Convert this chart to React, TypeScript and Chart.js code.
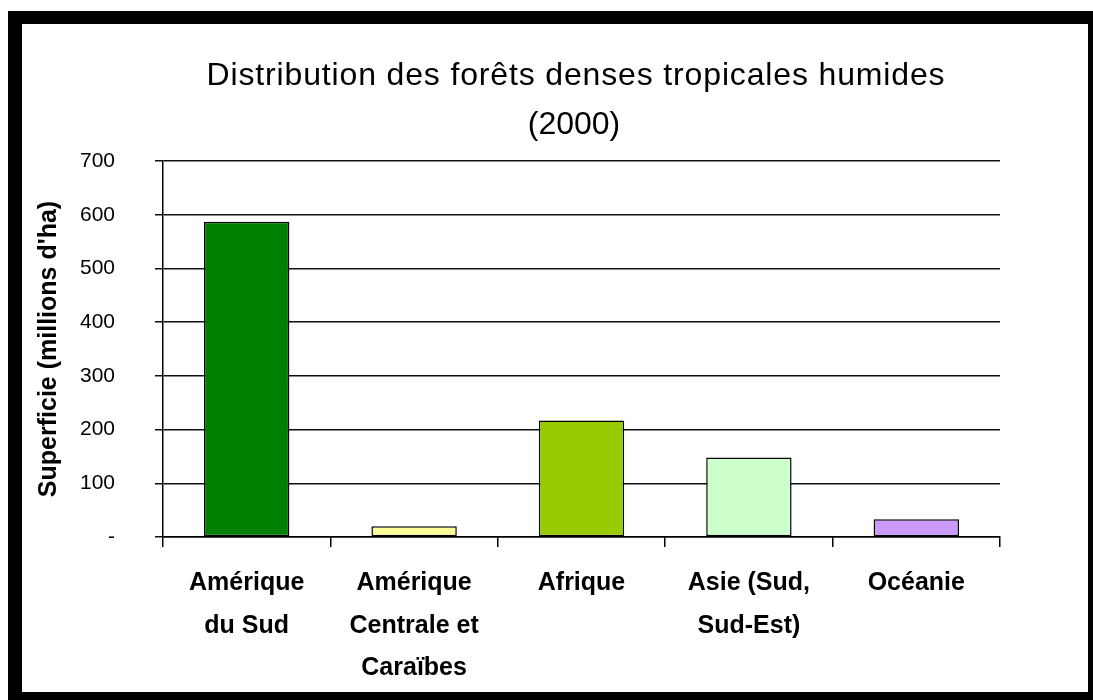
import React, { useEffect, useRef } from "react";
import { Chart, registerables } from "chart.js";

Chart.register(...registerables);

const categories: string[][] = [
  ["Amérique", "du Sud"],
  ["Amérique", "Centrale et", "Caraïbes"],
  ["Afrique"],
  ["Asie (Sud,", "Sud-Est)"],
  ["Océanie"],
];
const surfaceValues: number[] = [587, 20, 217, 148, 33];
const barColors: string[] = ["#008000", "#FFFF99", "#99CC00", "#CCFFCC", "#CC99FF"];
const titleLines: string[] = ["Distribution des forêts denses tropicales humides", "(2000)"];
const yAxisTitle = "Superficie (millions d'ha)";
const yMin = 0;
const yMax = 700;
const yStep = 100;

const FONT = '"Liberation Sans", Arial, sans-serif';

const titlePlugin = {
  id: "twoLineTitle",
  afterDraw(chart: any) {
    const ctx = chart.ctx as CanvasRenderingContext2D;
    ctx.save();
    ctx.fillStyle = "#000";
    ctx.font = `32px ${FONT}`;
    (ctx as any).letterSpacing = "0.85px";
    ctx.textAlign = "center";
    ctx.textBaseline = "alphabetic";
    ctx.fillText(titleLines[0], 554, 61);
    (ctx as any).letterSpacing = "0px";
    ctx.fillText(titleLines[1], 552, 110);
    ctx.restore();
  },
};

export default function App() {
  const ref = useRef<HTMLCanvasElement | null>(null);

  useEffect(() => {
    if (!ref.current) return;
    const chart = new Chart(ref.current, {
      type: "bar",
      data: {
        labels: categories,
        datasets: [
          {
            data: surfaceValues,
            backgroundColor: barColors,
            borderColor: "#000",
            borderWidth: 1.5,
            borderSkipped: false,
            barPercentage: 0.51,
            categoryPercentage: 1,
          },
        ],
      },
      options: {
        responsive: false,
        animation: false,
        devicePixelRatio: 1,
        layout: { padding: { top: 137, right: 88, left: 0, bottom: 0 } },
        plugins: {
          legend: { display: false },
          title: { display: false },
          tooltip: { enabled: false },
        },
        scales: {
          x: {
            offset: true,
            afterFit: (scale: any) => {
              scale.height = 155;
            },
            grid: {
              display: true,
              drawOnChartArea: false,
              drawTicks: true,
              tickLength: 10,
              offset: true,
              color: "#000",
              lineWidth: 1.5,
            },
            border: { display: true, color: "#000", width: 1.5 },
            ticks: {
              color: "#000",
              padding: 15,
              maxRotation: 0,
              autoSkip: false,
              font: { family: FONT, size: 25, weight: "bold", lineHeight: 1.7 },
            },
          },
          y: {
            min: yMin,
            max: yMax,
            afterFit: (scale: any) => {
              scale.width = 141;
            },
            grid: {
              display: true,
              drawTicks: true,
              tickLength: 8,
              color: "#111",
              lineWidth: 1.5,
            },
            border: { display: true, color: "#000", width: 1.5 },
            ticks: {
              stepSize: yStep,
              color: "#000",
              padding: 40,
              font: { family: FONT, size: 21 },
              callback: (v: any) => (Number(v) === 0 ? "-" : String(v)),
            },
            title: {
              display: true,
              text: yAxisTitle,
              color: "#000",
              padding: { top: 12, bottom: 0 },
              font: { family: FONT, size: 25, weight: "bold", lineHeight: 1.2 },
            },
          },
        },
      },
      plugins: [titlePlugin],
    });
    return () => chart.destroy();
  }, []);

  return (
    <div
      style={{
        position: "absolute",
        left: 8,
        top: 11,
        width: 1085,
        height: 689,
        background: "#000",
      }}
    >
      <div
        style={{
          position: "absolute",
          left: 14,
          top: 13,
          width: 1066,
          height: 668,
          background: "#fff",
        }}
      >
        <canvas ref={ref} width={1066} height={668} style={{ display: "block" }} />
      </div>
    </div>
  );
}
